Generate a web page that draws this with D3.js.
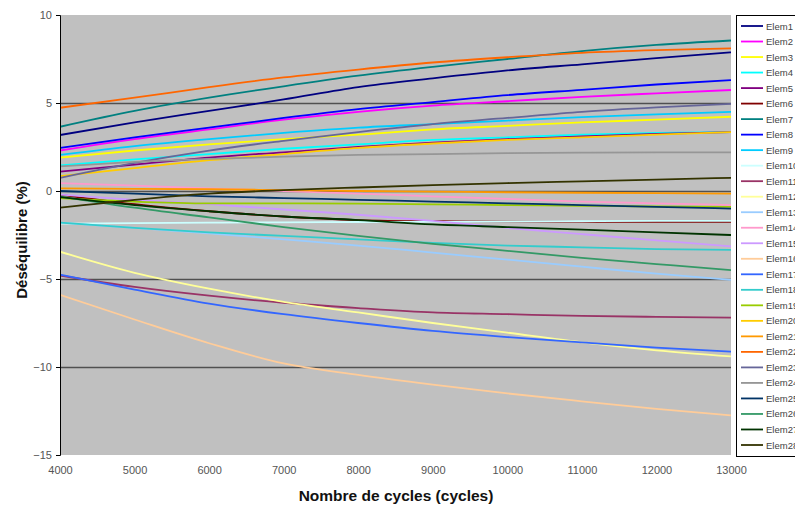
<!DOCTYPE html>
<html>
<head>
<meta charset="utf-8">
<script src="https://cdn.jsdelivr.net/npm/d3@7"></script>
<style>
  html, body { margin: 0; padding: 0; background: #fff; }
  svg { display: block; font-family: Arial, "Liberation Sans", sans-serif; }
</style>
</head>
<body>
<svg id="chart" width="795" height="507"></svg>
<script>
// ---------- DATA ----------
const cycles = [4000, 5000, 6000, 7000, 8000, 9000, 10000, 11000, 12000, 13000];
const yTicks = [10, 5, 0, -5, -10, -15];
const xTicks = [4000, 5000, 6000, 7000, 8000, 9000, 10000, 11000, 12000, 13000];

const elem1  = [3.18, 3.9, 4.55, 5.2, 5.9, 6.4, 6.85, 7.2, 7.55, 7.88];
const elem2  = [2.3, 2.95, 3.5, 4.05, 4.5, 4.85, 5.1, 5.35, 5.55, 5.74];
const elem3  = [1.9, 2.3, 2.65, 2.95, 3.2, 3.5, 3.7, 3.9, 4.05, 4.22];
const elem4  = [1.45, 1.8, 2.1, 2.4, 2.65, 2.9, 3.05, 3.2, 3.3, 3.35];
const elem5  = [1.1, 1.5, 1.9, 2.2, 2.5, 2.75, 2.95, 3.1, 3.25, 3.35];
const elem6  = [-0.2, -0.75, -1.15, -1.45, -1.65, -1.72, -1.74, -1.75, -1.75, -1.75];
const elem7  = [3.65, 4.55, 5.3, 5.95, 6.55, 7.05, 7.5, 7.95, 8.3, 8.55];
const elem8  = [2.45, 3.05, 3.6, 4.15, 4.65, 5.05, 5.45, 5.75, 6.05, 6.3];
const elem9  = [2.05, 2.55, 2.95, 3.3, 3.6, 3.8, 4.0, 4.2, 4.35, 4.5];
const elem10 = [-1.85, -1.82, -1.8, -1.78, -1.76, -1.75, -1.74, -1.72, -1.7, -1.7];
const elem11 = [-4.8, -5.45, -5.95, -6.35, -6.65, -6.9, -7.0, -7.1, -7.15, -7.2];
const elem12 = [-3.45, -4.65, -5.55, -6.3, -6.9, -7.5, -8.05, -8.6, -9.05, -9.4];
const elem13 = [-1.8, -2.1, -2.4, -2.75, -3.1, -3.5, -3.9, -4.3, -4.7, -5.05];
const elem14 = [0.45, 0.3, 0.15, 0.0, -0.15, -0.3, -0.45, -0.6, -0.7, -0.8];
const elem15 = [-0.2, -0.5, -0.75, -1.05, -1.35, -1.7, -2.1, -2.45, -2.8, -3.15];
const elem16 = [-5.9, -7.3, -8.65, -9.8, -10.45, -11.0, -11.5, -11.95, -12.38, -12.75];
const elem17 = [-4.75, -5.6, -6.4, -7.0, -7.5, -7.95, -8.3, -8.6, -8.9, -9.13];
const elem18 = [-1.8, -2.1, -2.35, -2.55, -2.75, -2.95, -3.1, -3.2, -3.3, -3.35];
const elem19 = [-0.4, -0.6, -0.7, -0.7, -0.72, -0.76, -0.8, -0.84, -0.88, -0.9];
const elem20 = [0.85, 1.3, 1.75, 2.1, 2.45, 2.7, 2.9, 3.05, 3.2, 3.35];
const elem21 = [0.15, 0.12, 0.1, 0.05, 0.0, -0.03, -0.07, -0.1, -0.12, -0.15];
const elem22 = [4.73, 5.3, 5.9, 6.45, 6.9, 7.3, 7.6, 7.85, 8.0, 8.1];
const elem23 = [0.75, 1.6, 2.3, 2.85, 3.35, 3.8, 4.15, 4.5, 4.75, 4.95];
const elem24 = [1.4, 1.65, 1.82, 1.95, 2.05, 2.1, 2.15, 2.18, 2.2, 2.2];
const elem25 = [0.0, -0.15, -0.3, -0.4, -0.5, -0.6, -0.7, -0.8, -0.9, -1.0];
const elem26 = [-0.3, -0.95, -1.5, -2.05, -2.55, -3.0, -3.4, -3.8, -4.15, -4.5];
const elem27 = [-0.35, -0.8, -1.15, -1.45, -1.65, -1.9, -2.05, -2.2, -2.35, -2.5];
const elem28 = [-0.95, -0.5, -0.15, 0.05, 0.2, 0.33, 0.45, 0.55, 0.65, 0.75];

const seriesNames = ["Elem1","Elem2","Elem3","Elem4","Elem5","Elem6","Elem7","Elem8","Elem9","Elem10",
  "Elem11","Elem12","Elem13","Elem14","Elem15","Elem16","Elem17","Elem18","Elem19","Elem20",
  "Elem21","Elem22","Elem23","Elem24","Elem25","Elem26","Elem27","Elem28"];
const seriesValues = [elem1, elem2, elem3, elem4, elem5, elem6, elem7, elem8, elem9, elem10,
  elem11, elem12, elem13, elem14, elem15, elem16, elem17, elem18, elem19, elem20,
  elem21, elem22, elem23, elem24, elem25, elem26, elem27, elem28];

// ---------- STYLE ----------
const palette = ["#000080","#FF00FF","#FFFF00","#00FFFF","#800080","#800000","#008080","#0000FF","#00CCFF","#CCFFFF",
  "#993366","#FFFF99","#99CCFF","#FF99CC","#CC99FF","#FFCC99","#3366FF","#33CCCC","#99CC00","#FFCC00",
  "#FF9900","#FF6600","#666699","#969696","#003366","#339966","#003300","#333300"];

const svg = d3.select("#chart");
const plot = { left: 60, right: 731, top: 15, bottom: 455 };

const x = d3.scaleLinear().domain([4000, 13000]).range([plot.left, plot.right]);
const y = d3.scaleLinear().domain([-15, 10]).range([plot.bottom, plot.top]);

// plot background
svg.append("rect")
  .attr("x", plot.left).attr("y", plot.top)
  .attr("width", plot.right - plot.left).attr("height", plot.bottom - plot.top)
  .attr("fill", "#C0C0C0");

// gridlines
svg.append("g").selectAll("line")
  .data(yTicks.filter(d => d !== 10 && d !== -15))
  .join("line")
  .attr("x1", plot.left).attr("x2", plot.right)
  .attr("y1", d => Math.round(y(d)) + 0.5).attr("y2", d => Math.round(y(d)) + 0.5)
  .attr("stroke", "#505050").attr("stroke-width", 1.5);

// clip
svg.append("clipPath").attr("id", "clip").append("rect")
  .attr("x", plot.left).attr("y", plot.top)
  .attr("width", plot.right - plot.left).attr("height", plot.bottom - plot.top);

const line = d3.line()
  .x((d, i) => x(cycles[i]))
  .y(d => y(d))
  .curve(d3.curveMonotoneX);

svg.append("g").attr("clip-path", "url(#clip)")
  .selectAll("path")
  .data(seriesValues)
  .join("path")
  .attr("d", d => line(d))
  .attr("fill", "none")
  .attr("stroke", (d, i) => palette[i])
  .attr("stroke-width", 1.8)
  .attr("stroke-linejoin", "round");

// y axis
const yAxis = d3.axisLeft(y).tickValues(yTicks).tickSize(4).tickPadding(4).tickFormat(d3.format("d"));
const gy = svg.append("g").attr("transform", `translate(${plot.left},0)`).call(yAxis);
gy.select(".domain").attr("stroke", "#000");
gy.selectAll(".tick line").attr("stroke", "#000");
gy.selectAll("text").attr("font-size", 11).attr("fill", "#555").attr("font-family", "Arial, 'Liberation Sans', sans-serif");

// x axis
const xAxis = d3.axisBottom(x).tickValues(xTicks).tickSize(0).tickPadding(11).tickFormat(d3.format("d"));
const gx = svg.append("g").attr("transform", `translate(0,${plot.bottom})`).call(xAxis);
gx.select(".domain").remove();
gx.selectAll("text").attr("font-size", 11).attr("fill", "#555").attr("font-family", "Arial, 'Liberation Sans', sans-serif");

// axis titles
svg.append("text")
  .attr("x", 396).attr("y", 501)
  .attr("text-anchor", "middle")
  .attr("font-size", 15.5).attr("font-weight", "bold").attr("fill", "#111")
  .text("Nombre de cycles (cycles)");

svg.append("text")
  .attr("transform", "translate(27,240) rotate(-90)")
  .attr("text-anchor", "middle")
  .attr("font-size", 15).attr("font-weight", "bold").attr("fill", "#111")
  .text("Déséquilibre (%)");

// legend
const leg = svg.append("g");
leg.append("rect")
  .attr("x", 736.5).attr("y", 15.5).attr("width", 70).attr("height", 441)
  .attr("fill", "#fff").attr("stroke", "#000").attr("stroke-width", 1);

const legY = d3.scalePoint().domain(seriesNames).range([26, 445]);
const items = leg.selectAll("g.item").data(seriesNames).join("g")
  .attr("class", "item")
  .attr("transform", d => `translate(0,${legY(d)})`);
items.append("line")
  .attr("x1", 741).attr("x2", 763).attr("y1", 0).attr("y2", 0)
  .attr("stroke", (d, i) => palette[i]).attr("stroke-width", 1.8);
items.append("text")
  .attr("x", 766).attr("y", 3.5)
  .attr("font-size", 9.5).attr("fill", "#444")
  .text(d => d);
</script>
</body>
</html>
